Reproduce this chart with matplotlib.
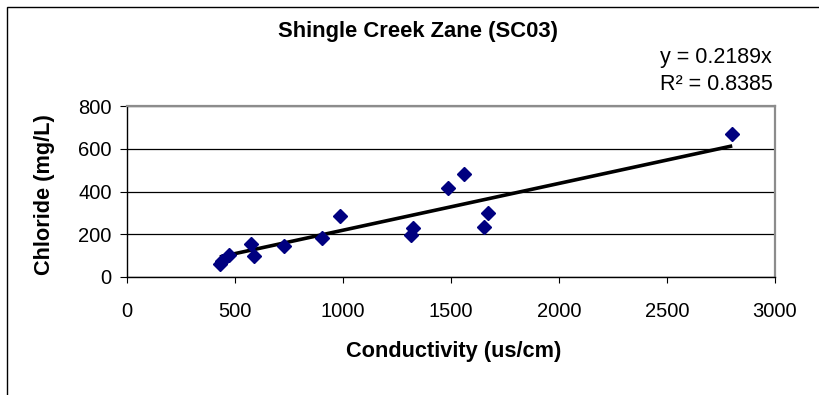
import matplotlib

matplotlib.use("Agg")
import matplotlib.pyplot as plt
import numpy as np
from matplotlib.patches import Rectangle

# Shingle Creek Zane (SC03) grab samples
conductivity = [430, 442, 470, 573, 589, 727, 904, 986, 1313, 1323, 1488, 1562, 1654, 1673, 2802]
chloride = [62, 76, 105, 154, 98, 145, 181, 285, 196, 230, 416, 481, 235, 300, 668]

slope = 0.2189
r_squared = 0.8385

x_ticks = [0, 500, 1000, 1500, 2000, 2500, 3000]
y_ticks = [0, 200, 400, 600, 800]

plt.rcParams["font.family"] = ["Liberation Sans", "DejaVu Sans"]

W, H = 819, 395
fig = plt.figure(figsize=(W / 100, H / 100), dpi=100)
ax = fig.add_axes([127 / W, 1 - 277 / H, (775 - 127) / W, (277 - 106) / H])

# trendline through the origin, spanning the sampled range
x_fit = np.array([min(conductivity), max(conductivity)])
ax.plot(x_fit, slope * x_fit, color="black", lw=2.6, solid_capstyle="butt", zorder=2)
ax.plot(conductivity, chloride, ls="none", marker="D", ms=6.8,
        color="#000080", mec="#000080", zorder=3)

ax.set_xlim(0, 3000)
ax.set_ylim(0, 800)
ax.set_xticks(x_ticks)
ax.set_yticks(y_ticks)
ax.tick_params(axis="x", direction="out", length=4, width=0.8, pad=14, labelsize=14.5)
ax.tick_params(axis="y", direction="out", length=5, width=0.8, pad=6, labelsize=14.5)
ax.grid(axis="y", color="black", lw=0.9)
ax.set_axisbelow(True)
for side in ("left", "bottom"):
    ax.spines[side].set_color("black")
    ax.spines[side].set_linewidth(1.0)
for side in ("top", "right"):
    ax.spines[side].set_color("#8c8c8c")
    ax.spines[side].set_linewidth(1.6)

fig.text(418 / W, 1 - 31 / H, "Shingle Creek Zane (SC03)", ha="center", va="center",
         fontsize=15.8, fontweight="bold")
fig.text(772 / W, 1 - 57 / H, f"y = {slope}x", ha="right", va="center", fontsize=15.5)
fig.text(773 / W, 1 - 85 / H, f"R² = {r_squared}", ha="right", va="center", fontsize=15.5)
fig.text(454 / W, 1 - 352 / H, "Conductivity (us/cm)", ha="center", va="center",
         fontsize=15.7, fontweight="bold")
fig.text(45 / W, 1 - 195 / H, "Chloride (mg/L)", ha="center", va="center",
         rotation=90, fontsize=15.7, fontweight="bold")

# outer chart frame, cut off at the right and bottom edges
fig.add_artist(Rectangle((6.5 / W, -0.1), 1.2, 1 - 6.5 / H + 0.1, fill=False,
                         lw=1.0, ec="black", transform=fig.transFigure))

fig.savefig("out.png", dpi=100)
